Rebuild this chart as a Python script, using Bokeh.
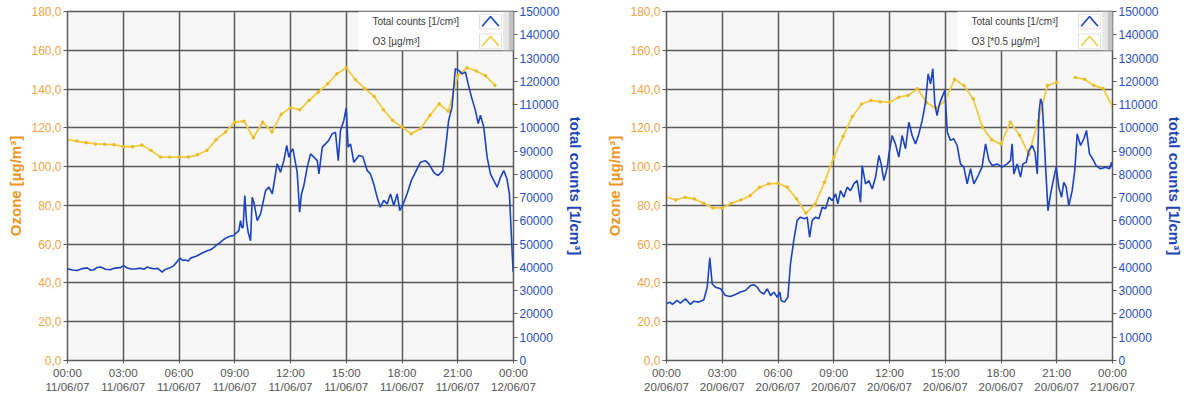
import math
from bokeh.plotting import figure
from bokeh.models import (Range1d, LinearAxis, FixedTicker, BoxAnnotation, Label,
                          BasicTickFormatter, ColumnDataSource)
from bokeh.layouts import row
from bokeh.embed import file_html
from bokeh.resources import INLINE

NaN = float("nan")

# ---------------- data ----------------
HOUR_TICKS = [0, 3, 6, 9, 12, 15, 18, 21, 24]
TIME_LABELS = ["00:00", "03:00", "06:00", "09:00", "12:00", "15:00", "18:00", "21:00", "00:00"]
DATES_1 = ["11/06/07"] * 8 + ["12/06/07"]
DATES_2 = ["20/06/07"] * 8 + ["21/06/07"]
OZONE_TICKS = [0, 20, 40, 60, 80, 100, 120, 140, 160, 180]
COUNT_TICKS = [0, 10000, 20000, 30000, 40000, 50000, 60000, 70000, 80000, 90000,
               100000, 110000, 120000, 130000, 140000, 150000]

# Chart 1 : 11/06/07 - ozone (half-hourly)
O3_1_H = [0, 0.5, 1, 1.5, 2, 2.5, 3, 3.5, 4, 4.5, 5, 5.5, 6, 6.5, 7, 7.5, 8, 8.5, 9, 9.5,
          10, 10.5, 11, 11.5, 12, 12.5, 13, 13.5, 14, 14.5, 15, 15.5, 16, 16.5, 17, 17.5,
          18, 18.5, 19, 19.5, 20, 20.5, 21, 21.5, 22, 22.5, 23, 23.5, 24]
O3_1 = [113.9, 113.2, 112.3, 111.7, 111.5, 111.3, 110.3, 110.3, 111.1, 108.3, 104.9, 104.9,
        104.9, 104.9, 106.1, 108.3, 113.9, 117.9, 123.0, 123.4, 114.9, 122.9, 117.9, 127.0,
        130.4, 129.3, 134.2, 138.5, 142.7, 147.9, 151.0, 144.8, 140.2, 136.2, 129.3, 123.8,
        120.4, 117.0, 119.6, 126.4, 132.4, 128.5, 147.0, 151.0, 149.3, 146.8, 141.9, NaN, 132.4]

# Chart 1 : total counts (thousands of 1/cm3)
CNT_1_H = [0.0, 0.26, 0.52, 0.8, 1.06, 1.25, 1.42, 1.6, 1.78, 2.05, 2.31, 2.5, 2.67, 2.85,
           3.03, 3.2, 3.39, 3.65, 3.93, 4.1, 4.29, 4.47, 4.65, 4.85, 5.1, 5.22, 5.37, 5.55,
           5.72, 5.9, 6.05, 6.2, 6.35, 6.5, 6.62, 6.8, 6.98, 7.25, 7.52, 7.7, 7.88, 8.05,
           8.23, 8.4, 8.59, 8.78, 8.95, 9.1, 9.22, 9.31, 9.38, 9.45, 9.54, 9.63, 9.72, 9.85,
           9.94, 10.03, 10.21, 10.39, 10.66, 10.84, 11.02, 11.28, 11.46, 11.64, 11.8, 11.91,
           12.0, 12.13, 12.36, 12.49, 12.59, 12.72, 12.9, 13.08, 13.26, 13.44, 13.53, 13.71,
           13.88, 14.06, 14.24, 14.42, 14.57, 14.69, 14.87, 15.0, 15.1, 15.23, 15.41, 15.68,
           15.89, 16.13, 16.3, 16.48, 16.66, 16.84, 17.02, 17.2, 17.38, 17.56, 17.74, 17.88,
           18.1, 18.27, 18.5, 18.72, 18.99, 19.26, 19.44, 19.71, 19.94, 20.19, 20.33, 20.51,
           20.69, 20.87, 21.05, 21.23, 21.41, 21.56, 21.74, 21.95, 22.1, 22.22, 22.4, 22.58,
           22.76, 22.94, 23.12, 23.3, 23.48, 23.65, 23.78, 23.89, 23.98]
CNT_1 = [39.4, 38.9, 38.7, 39.5, 39.8, 38.8, 39.0, 40.0, 40.2, 39.2, 39.0, 39.6, 39.8, 39.9,
         40.8, 39.8, 39.4, 39.3, 39.7, 39.2, 40.2, 39.7, 39.4, 39.6, 38.0, 39.0, 39.4, 40.0,
         40.8, 42.5, 44.0, 43.0, 43.2, 42.8, 44.0, 44.5, 45.0, 46.2, 47.2, 47.6, 48.6, 49.8,
         50.8, 52.0, 52.9, 53.5, 53.7, 55.0, 55.8, 60.1, 57.0, 57.3, 70.9, 60.1, 55.1, 51.5,
         70.2, 68.0, 60.1, 63.0, 73.0, 74.5, 71.6, 84.5, 80.9, 85.9, 92.4, 87.4,
         89.5, 91.0, 80.9, 63.7, 71.6, 75.2, 83.1, 88.8, 87.4, 85.9, 80.2, 91.7,
         93.1, 94.6, 97.4, 98.1, 85.9, 98.9, 103.2, 108.6, 91.7, 93.1, 85.2, 88.1,
         87.7, 81.6, 80.2, 75.9, 70.2, 65.9, 68.8, 67.3, 71.6, 66.6, 71.6, 64.4,
         68.0, 71.6, 77.3, 80.9, 85.2, 85.9, 84.5, 80.9, 79.5, 81.6, 90.2, 103.2,
         108.9, 125.4, 124.7, 123.2, 124.0, 118.9, 113.2, 107.5, 101.8, 105.4, 100.3, 87.4,
         80.2, 77.3, 74.5, 78.8, 81.6, 78.0, 71.6, 53.0, 37.9]

# Chart 2 : 20/06/07 - ozone (half-hourly, *0.5)
O3_2_H = O3_1_H
O3_2 = [84.2, 82.8, 84.2, 83.3, 81.1, 78.7, 78.7, 81.1, 82.8, 85.0, 89.3, 91.1, 91.4, 89.3,
        83.3, 75.9, 80.7, 91.9, 104.8, 115.5, 125.8, 132.3, 134.1, 133.5, 133.2, 135.8,
        136.7, 140.1, 133.0, 130.0, 134.0, 145.0, 141.8, 135.0, 120.3, 113.8, 111.6, 122.9,
        116.2, 106.2, 123.5, 141.8, 143.5, NaN, 146.0, 145.0, 141.8, 140.3, 131.0]

# Chart 2 : total counts (thousands of 1/cm3)
CNT_2_H = [0.0, 0.18, 0.32, 0.57, 0.75, 1.02, 1.29, 1.47, 1.74, 2.01, 2.19, 2.33, 2.46, 2.64,
           2.91, 3.17, 3.44, 3.71, 3.98, 4.25, 4.52, 4.7, 4.88, 5.06, 5.24, 5.42, 5.6, 5.78,
           5.96, 6.1, 6.17, 6.35, 6.53, 6.67, 6.85, 7.03, 7.21, 7.43, 7.57, 7.7, 7.84, 8.02,
           8.2, 8.38, 8.56, 8.74, 8.92, 9.1, 9.22, 9.36, 9.54, 9.72, 9.9, 10.08, 10.26, 10.44,
           10.53, 10.71, 10.89, 11.07, 11.25, 11.43, 11.55, 11.7, 11.88, 11.97, 12.14, 12.32,
           12.5, 12.68, 12.86, 13.04, 13.22, 13.4, 13.58, 13.76, 13.94, 14.08, 14.21, 14.33,
           14.44, 14.56, 14.69, 14.83, 14.98, 15.11, 15.28, 15.46, 15.64, 15.82, 16.0, 16.18,
           16.36, 16.54, 16.77, 16.98, 17.17, 17.35, 17.53, 17.79, 18.06, 18.33, 18.51, 18.6,
           18.69, 18.87, 19.05, 19.18, 19.36, 19.5, 19.68, 19.83, 19.95, 20.04, 20.13, 20.22,
           20.31, 20.4, 20.53, 20.67, 20.85, 20.97, 21.11, 21.26, 21.38, 21.51, 21.65, 21.83,
           21.97, 22.1, 22.28, 22.46, 22.6, 22.76, 22.94, 23.12, 23.35, 23.62, 23.84, 23.95, 24.0]
CNT_2 = [24.4, 25.1, 24.1, 25.8, 24.7, 26.5, 24.1, 25.5, 25.1, 26.1, 31.5, 44.1, 32.9, 31.5,
         30.8, 27.9, 27.5, 28.4, 29.4, 30.1, 32.2, 32.6, 31.5, 29.4, 28.6, 30.8, 27.9, 29.4,
         27.2, 29.4, 25.8, 25.1, 27.2, 41.5, 51.6, 60.2, 61.6, 60.9, 61.6, 53.0, 60.2, 61.6,
         60.9, 65.9, 65.2, 70.2, 68.7, 71.6, 67.3, 73.0, 70.2, 74.5, 73.0, 75.9, 77.3, 68.0,
         83.8, 75.9, 77.3, 73.7, 78.8, 88.1, 84.5, 77.3, 83.1, 88.8, 96.7, 93.1,
         87.4, 96.7, 91.0, 102.4, 96.7, 93.1, 97.4, 103.2, 111.1, 123.2, 118.9, 125.4,
         110.3, 105.3, 110.3, 113.2, 116.1, 98.1, 94.6, 95.3, 92.4, 84.5, 83.1, 75.9,
         82.4, 75.9, 79.5, 83.1, 93.1, 85.9, 83.8, 84.5, 83.1, 84.5, 85.9, 93.1,
         80.2, 84.5, 78.8, 84.5, 85.2, 90.2, 92.4, 89.5, 80.2, 106.1, 112.5, 110.3,
         97.4, 83.1, 64.4, 71.6, 78.8, 83.1, 74.5, 70.2, 76.6, 74.5, 66.6, 73.0,
         81.6, 97.4, 92.4, 95.3, 98.9, 88.8, 86.6, 83.8, 82.4, 83.1, 82.4, 85.2, 83.1]

COUNTS_LEGEND = "Total counts [1/cm³]"
O3_LEGEND_1 = "O3 [µg/m³]"
O3_LEGEND_2 = "O3 [*0.5 µg/m³]"

# ---------------- styles ----------------
FONT = "Liberation Sans"
YELLOW = "#f3cb42"
YELLOW_DOT = "#e9bb2a"
BLUE = "#1b43c0"
ORANGE_TICK = "#f0a446"
ORANGE_TITLE = "#ef9526"
BLUE_TICK = "#2a50c4"
BLUE_TITLE = "#1d44b4"
GRID = "#5a5a5a"


def make_chart(dates, o3_h, o3_v, cnt_h, cnt_v, o3_legend, border_left, border_right):
    p = figure(frame_width=446, frame_height=349, output_backend="svg",
               toolbar_location=None, x_range=Range1d(0, 24), y_range=Range1d(0, 180),
               min_border_left=border_left, min_border_right=border_right,
               min_border_top=11, min_border_bottom=32)
    p.extra_y_ranges = {"cnt": Range1d(0, 150000)}
    p.background_fill_color = "#f7f7f7"
    p.border_fill_color = "white"
    p.outline_line_color = GRID
    p.outline_line_width = 1.5

    # x axis
    xa = p.xaxis[0]
    xa.ticker = FixedTicker(ticks=HOUR_TICKS)
    xa.major_label_overrides = {h: f"{t}\n{d}" for h, t, d in zip(HOUR_TICKS, TIME_LABELS, dates)}
    xa.major_label_text_font = FONT
    xa.major_label_text_font_size = "11.5px"
    xa.major_label_text_color = "#555555"
    xa.major_label_standoff = 3
    xa.major_tick_in = 0
    xa.major_tick_out = 3
    xa.minor_tick_line_color = None
    xa.axis_line_color = GRID
    xa.major_tick_line_color = GRID

    # left axis (ozone)
    ya = p.yaxis[0]
    ya.ticker = FixedTicker(ticks=OZONE_TICKS)
    ya.major_label_overrides = {v: f"{v},0" for v in OZONE_TICKS}
    ya.axis_label = "Ozone [µg/m³]"
    ya.axis_label_text_font = FONT
    ya.axis_label_text_font_size = "15px"
    ya.axis_label_text_font_style = "bold"
    ya.axis_label_text_color = ORANGE_TITLE
    ya.axis_label_standoff = 4
    ya.major_label_text_font = FONT
    ya.major_label_text_font_size = "12px"
    ya.major_label_text_color = ORANGE_TICK
    ya.major_label_standoff = 2
    ya.major_tick_in = 0
    ya.major_tick_out = 4
    ya.minor_tick_line_color = None
    ya.axis_line_color = GRID
    ya.major_tick_line_color = GRID

    # right axis (counts)
    ra = LinearAxis(y_range_name="cnt", ticker=FixedTicker(ticks=COUNT_TICKS),
                    formatter=BasicTickFormatter(use_scientific=False))
    ra.axis_label = "total counts [1/cm³]"
    ra.axis_label_text_font = FONT
    ra.axis_label_text_font_size = "15px"
    ra.axis_label_text_font_style = "bold"
    ra.axis_label_text_color = BLUE_TITLE
    ra.axis_label_standoff = 4
    ra.major_label_text_font = FONT
    ra.major_label_text_font_size = "12px"
    ra.major_label_text_color = BLUE_TICK
    ra.major_label_standoff = 2
    ra.major_tick_in = 0
    ra.major_tick_out = 4
    ra.minor_tick_line_color = None
    ra.axis_line_color = GRID
    ra.major_tick_line_color = GRID
    p.add_layout(ra, "right")

    # grid
    p.xgrid.grid_line_color = GRID
    p.xgrid.grid_line_width = 1.5
    p.ygrid.grid_line_color = GRID
    p.ygrid.grid_line_width = 1.5

    # series
    oz = ColumnDataSource(dict(h=o3_h, v=o3_v))
    p.line("h", "v", source=oz, line_color=YELLOW, line_width=1.8)
    p.scatter("h", "v", source=oz, size=3.5, fill_color=YELLOW_DOT, line_color=None)
    cn = ColumnDataSource(dict(h=cnt_h, c=[c * 1000 for c in cnt_v]))
    p.line("h", "c", source=cn, y_range_name="cnt", line_color=BLUE, line_width=1.6)

    # legend box (text left, boxed chevron icon right)
    lg_left, lg_right, lg_bottom, lg_top = 15.66, 24.0, 160.0, 180.0
    p.add_layout(BoxAnnotation(left=lg_left, right=lg_right, bottom=lg_bottom, top=lg_top,
                               fill_color="white", fill_alpha=1.0, line_color=None))
    p.add_layout(BoxAnnotation(left=23.45, right=23.75, bottom=lg_bottom, top=lg_top,
                               fill_color="#e6e6e6", fill_alpha=1.0, line_color=None))
    p.add_layout(BoxAnnotation(left=23.75, right=lg_right, bottom=lg_bottom, top=lg_top,
                               fill_color="#c4c4c4", fill_alpha=1.0, line_color=None))
    icon_l, icon_r = 22.17, 23.36
    rows = [(171.0, 178.6, BLUE, COUNTS_LEGEND), (160.8, 168.4, YELLOW, o3_legend)]
    for bot, top, col, txt in rows:
        p.add_layout(BoxAnnotation(left=icon_l, right=icon_r, bottom=bot, top=top,
                                   fill_color="white", fill_alpha=1.0,
                                   line_color="#9a9a9a", line_width=1))
        mid = (bot + top) / 2
        p.add_layout(Label(x=lg_left + 0.75, y=mid, text=txt, text_font=FONT,
                           text_font_size="10px", text_color="#3a3a3a",
                           text_baseline="middle", text_align="left"))
        w = icon_r - icon_l
        r = p.line([icon_l + 0.12 * w, icon_l + 0.5 * w, icon_l + 0.88 * w],
                   [bot + 0.18 * (top - bot), top - 0.15 * (top - bot), bot + 0.18 * (top - bot)],
                   line_color=col, line_width=1.6)
        r.level = "overlay"
    return p


p1 = make_chart(DATES_1, O3_1_H, O3_1, CNT_1_H, CNT_1, O3_LEGEND_1, 67, 78)
p2 = make_chart(DATES_2, O3_2_H, O3_2, CNT_2_H, CNT_2, O3_LEGEND_2, 75, 70)
layout = row(p1, p2)

open("out.html", "w").write(file_html(layout, INLINE))
